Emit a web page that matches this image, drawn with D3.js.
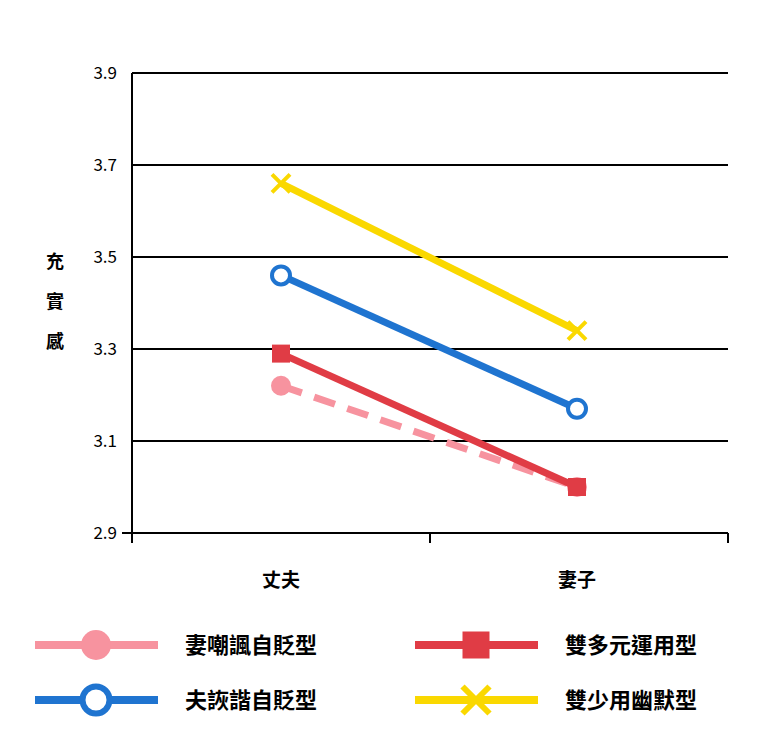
<!DOCTYPE html>
<html><head><meta charset="utf-8">
<script src="https://cdn.jsdelivr.net/npm/d3@7"></script>
<style>body{margin:0;background:#fff}text{font-family:"Noto Sans CJK TC","Noto Sans",sans-serif}</style>
</head><body><svg id="chart" width="760" height="741"></svg>
<script>
const categories = ["丈夫", "妻子"];
const yTicks = [2.9, 3.1, 3.3, 3.5, 3.7, 3.9];
const seriesNames = ["妻嘲諷自貶型", "雙多元運用型", "夫詼諧自貶型", "雙少用幽默型"];
const seriesValues = [[3.22, 3.00], [3.29, 3.00], [3.46, 3.17], [3.66, 3.34]];
const seriesColors = ["#f7939f", "#e03c45", "#1f74d0", "#fad800"];
const seriesMarkers = ["dot", "square", "ring", "cross"];
const seriesDash = [true, false, false, false];

const svg = d3.select("#chart");
const x = d3.scalePoint().domain(categories).range([281, 577]);
const y = d3.scaleLinear().domain([2.9, 3.9]).range([533, 73]);

// grid
svg.selectAll(".grid").data(yTicks.slice(1)).join("line")
  .attr("x1", 132).attr("x2", 728).attr("y1", d => y(d)).attr("y2", d => y(d))
  .attr("stroke", "#000").attr("stroke-width", 2);
// axes
svg.append("line").attr("x1", 132).attr("x2", 132).attr("y1", 73).attr("y2", 533).attr("stroke", "#000").attr("stroke-width", 2);
svg.append("line").attr("x1", 122).attr("x2", 728).attr("y1", 533).attr("y2", 533).attr("stroke", "#000").attr("stroke-width", 2);
[132, 430, 728].forEach(px => svg.append("line").attr("x1", px).attr("x2", px).attr("y1", 533).attr("y2", 543).attr("stroke", "#000").attr("stroke-width", 2));
svg.selectAll(".yl").data(yTicks).join("text")
  .attr("x", 117).attr("y", d => y(d) + 6).attr("text-anchor", "end")
  .attr("font-size", 17).text(d => d.toFixed(1));
svg.selectAll(".xl").data(categories).join("text")
  .attr("x", d => x(d)).attr("y", 587).attr("text-anchor", "middle")
  .attr("font-size", 19).attr("font-weight", "bold").text(d => d);
["充", "實", "感"].forEach((c, i) => svg.append("text").attr("x", 55).attr("y", 268 + i * 40)
  .attr("text-anchor", "middle").attr("font-size", 18).attr("font-weight", "bold").text(c));

function marker(g, type, color, cx, cy, s) {
  if (type === "dot") g.append("circle").attr("cx", cx).attr("cy", cy).attr("r", 10 * s).attr("fill", color);
  if (type === "ring") g.append("circle").attr("cx", cx).attr("cy", cy).attr("r", 9 * s).attr("fill", "#fff").attr("stroke", color).attr("stroke-width", 4 * s);
  if (type === "square") g.append("rect").attr("x", cx - 9 * s).attr("y", cy - 9 * s).attr("width", 18 * s).attr("height", 18 * s).attr("fill", color);
  if (type === "cross") {
    const r = 9 * s;
    g.append("path").attr("d", `M${cx - r},${cy - r}L${cx + r},${cy + r}M${cx - r},${cy + r}L${cx + r},${cy - r}`)
      .attr("stroke", color).attr("stroke-width", 4 * s);
  }
}

seriesValues.forEach((vals, i) => {
  const g = svg.append("g");
  g.append("path").attr("d", d3.line().x((d, j) => x(categories[j])).y(d => y(d))(vals))
    .attr("fill", "none").attr("stroke", seriesColors[i]).attr("stroke-width", 7)
    .attr("stroke-dasharray", seriesDash[i] ? "22,13" : null);
  vals.forEach((v, j) => marker(g, seriesMarkers[i], seriesColors[i], x(categories[j]), y(v), 1));
});

// legend
const legendPos = [[35, 645], [415, 645], [35, 700], [415, 700]];
seriesNames.forEach((name, i) => {
  const [lx, ly] = legendPos[i];
  const g = svg.append("g");
  g.append("line").attr("x1", lx).attr("x2", lx + 123).attr("y1", ly).attr("y2", ly)
    .attr("stroke", seriesColors[i]).attr("stroke-width", 8);
  marker(g, seriesMarkers[i], seriesColors[i], lx + 61, ly, 1.5);
  g.append("text").attr("x", lx + 150).attr("y", ly + 8).attr("font-size", 22).attr("font-weight", "bold").text(name);
});
</script></body></html>
